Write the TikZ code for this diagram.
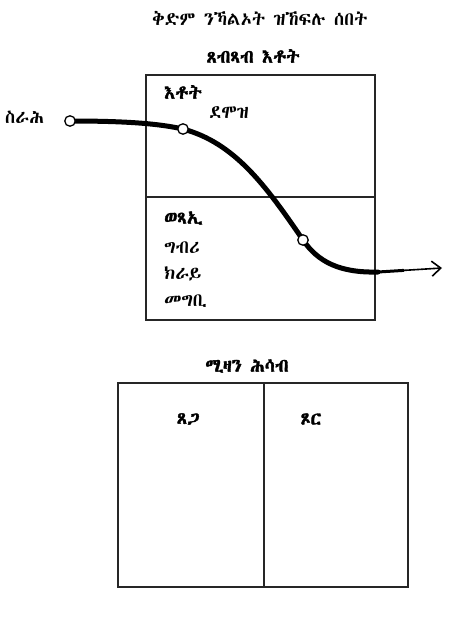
\documentclass[tikz,border=0pt]{standalone}
\usepackage{fontspec}
\usetikzlibrary{arrows.meta,calc}
\IfFontExistsTF{Abyssinica SIL}{\newfontfamily\eth{Abyssinica SIL}[AutoFakeBold=2]}{%
  \IfFontExistsTF{FreeSerif}{\newfontfamily\eth{FreeSerif}[AutoFakeBold=2]}{%
    \IfFontExistsTF{Code2000}{\newfontfamily\eth{Code2000}[AutoFakeBold=2]}{%
    \newfontfamily\eth{DejaVu Sans}}}}
\begin{document}
\begin{tikzpicture}[x=1pt,y=-1pt,
  lbl/.style={font=\eth\fontsize{18.5}{21}\selectfont, inner sep=0pt},
  blbl/.style={font=\eth\bfseries\fontsize{18.5}{21}\selectfont, inner sep=0pt},
  frame/.style={draw=black!85, line width=2pt},
  dot/.style={circle, draw=black, fill=white, line width=1.3pt, minimum size=10.5pt, inner sep=0pt},
  flow/.style={line width=5pt, line cap=round, line join=round}
]
\useasboundingbox[fill=white] (0,0) rectangle (457,621);

% texts
\node[lbl] (title) at (260,18) {ቅድም ንኻልኦት ዝኸፍሉ ሰበት};
\node[blbl] (inc) at (253,56) {ጸብጻብ እቶት};

% income statement box
\draw[frame] (146,75) rectangle (375,320);
\draw[frame] (146,197) -- (375,197);

\node[blbl, anchor=west] (income) at (164,92) {እቶት};
\node[lbl, anchor=west] (salary) at (209,113) {ደሞዝ};
\node[blbl, anchor=west] (expense) at (164,218) {ወጻኢ};
\node[lbl, anchor=west] (tax) at (164,248) {ግብሪ};
\node[lbl, anchor=west] (rent) at (164,274) {ክራይ};
\node[lbl, anchor=west] (food) at (164,301) {መግቢ};

\node[lbl, anchor=west] (work) at (5,117) {ስራሕ};

% flow curve
\coordinate (p0) at (70,121);
\coordinate (p2) at (183,129);
\coordinate (p4) at (303,240);
\coordinate (p6) at (378,272);
\coordinate (tip) at (442,268);
\coordinate (mid) at ($(p6)!0.4!(tip)$);
\draw[flow] (p0) .. controls (130,121) and (160,124) .. (p2)
  .. controls (235,143) and (266,186) .. (p4)
  .. controls (318,262) and (340,273) .. (p6);
\draw[line width=3pt, line cap=round] (p6) -- (mid);
\draw[line width=1.6pt, -{Straight Barb[length=9pt, width=15pt, line width=1.6pt]}] (p6) -- (tip);
\node[dot] (start) at (p0) {};
\node[dot] (m1) at (p2) {};
\node[dot] (m2) at (p4) {};

% balance sheet
\node[blbl] (bal) at (247,366) {ሚዛን ሕሳብ};
\draw[frame] (118,383) rectangle (408,587);
\draw[frame] (264,383) -- (264,587);
\node[blbl] (assets) at (188,419) {ጸጋ};
\node[blbl] (liab) at (311,419) {ጾር};
\end{tikzpicture}
\end{document}
